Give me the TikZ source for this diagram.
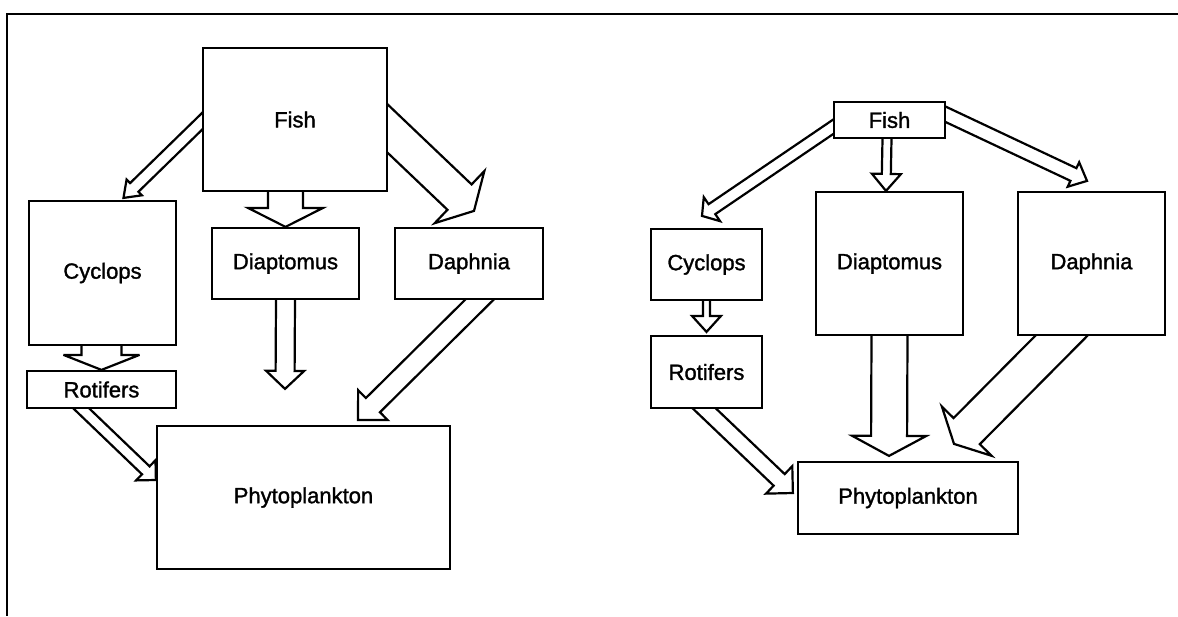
\documentclass[tikz,border=0pt]{standalone}
\usepackage{fontspec}
\setmainfont{Liberation Sans}
\newfontfamily\labelfont{Liberation Sans}[FakeBold=1.4]
\usetikzlibrary{calc,backgrounds}
\tikzset{
  box/.style={draw, fill=white, line width=2.2pt, inner sep=0pt, align=center,
    font=\labelfont\fontsize{22}{26}\selectfont},
  arrowline/.style={draw, line width=2.2pt, line join=miter, miter limit=5},
  frameline/.style={draw, line width=2.8pt}
}
% \barrow{start}{tip}{shaft half width}{head half width}{head length}{hidden extension}
\newcommand{\barrow}[6]{%
  \begin{pgfonlayer}{background}
  \coordinate (ba) at #1;
  \coordinate (bb) at #2;
  \coordinate (bs) at ($(ba)!-#6!(bb)$);
  \coordinate (bc) at ($(bb)!#5!(ba)$);
  \draw[arrowline] ($(bs)!#3!90:(bb)$) -- ($(bc)!#3!-90:(ba)$) -- ($(bc)!#4!-90:(ba)$) -- (bb)
    -- ($(bc)!#4!90:(ba)$) -- ($(bc)!#3!90:(ba)$) -- ($(bs)!#3!-90:(bb)$);
  \end{pgfonlayer}
}
\begin{document}
\begin{tikzpicture}[x=1pt,y=-1pt]
\useasboundingbox (0,0) rectangle (1178,616);
% frame
\draw[frameline] (1178,14) -- (7,14) -- (7,616);

% ---------- left diagram ----------
\node[box, minimum width=184pt, minimum height=143pt] (lfish) at (295,119.5) {Fish};
\node[box, minimum width=147pt, minimum height=144pt] (lcyc) at (102.5,273) {Cyclops};
\node[box, minimum width=147pt, minimum height=71pt] (ldia) at (285.5,263.5) {Diaptomus};
\node[box, minimum width=148pt, minimum height=71pt] (ldap) at (469,263.5) {Daphnia};
\node[box, minimum width=149pt, minimum height=37pt] (lrot) at (101.5,389.5) {Rotifers};
\node[box, minimum width=293pt, minimum height=143pt] (lphy) at (303.5,497.5) {Phytoplankton};

\barrow{($(lfish.west)+(0,2)$)}{($(lcyc.north)+(21,-2)$)}{6pt}{11pt}{15pt}{12pt}
\barrow{($(lfish.south)+(-9.5,0)$)}{(ldia.north)}{17.5pt}{37.5pt}{19pt}{10pt}
\barrow{($(lfish.east)+(1,10.5)$)}{($(ldap.north)+(5,-16)$)}{17.5pt}{36pt}{20pt}{24pt}
\barrow{($(lcyc.south)+(-1,0)$)}{(lrot.north)}{20pt}{38pt}{15pt}{10pt}
\barrow{(ldia.south)}{($(lphy.north)+(-18.5,-36)$)}{9.5pt}{19pt}{18pt}{10pt}
\barrow{($(ldap.south)+(10,0)$)}{($(lphy.north)+(54.5,-5)$)}{10pt}{21pt}{21pt}{16pt}
\barrow{($(lrot.south)+(-19.5,0)$)}{($(lphy.west)+(0,-17.5)$)}{5.5pt}{14pt}{14pt}{10pt}

% ---------- right diagram ----------
\node[box, minimum width=111pt, minimum height=36pt] (rfish) at (889.5,120) {Fish};
\node[box, minimum width=111pt, minimum height=71pt] (rcyc) at (706.5,264.5) {Cyclops};
\node[box, minimum width=147pt, minimum height=143pt] (rdia) at (889.5,263.5) {Diaptomus};
\node[box, minimum width=147pt, minimum height=143pt] (rdap) at (1091.5,263.5) {Daphnia};
\node[box, minimum width=111pt, minimum height=72pt] (rrot) at (706.5,372) {Rotifers};
\node[box, minimum width=220pt, minimum height=72pt] (rphy) at (908,498) {Phytoplankton};

\barrow{($(rfish.west)+(0,7)$)}{($(rcyc.north)+(-4.5,-12)$)}{6pt}{14.5pt}{12pt}{12pt}
\barrow{($(rfish.south)+(-2.5,0)$)}{($(rdia.north)+(-3.5,0)$)}{4.5pt}{14.5pt}{17pt}{10pt}
\barrow{($(rfish.east)+(1,-5)$)}{($(rdap.north)+(-4.5,-10)$)}{7pt}{13.5pt}{15pt}{13pt}
\barrow{(rcyc.south)}{($(rrot.north)+(0,-3)$)}{3.5pt}{14.5pt}{16pt}{10pt}
\barrow{(rdia.south)}{($(rphy.north)+(-19,-5)$)}{18pt}{37pt}{20pt}{10pt}
\barrow{($(rdap.south)+(-30.5,0)$)}{($(rphy.north)+(46,-17)$)}{18.5pt}{35pt}{18pt}{24pt}
\barrow{($(rrot.south)+(-1.5,0)$)}{($(rphy.west)+(-4,-5)$)}{8pt}{19pt}{19pt}{14pt}
\end{tikzpicture}
\end{document}
